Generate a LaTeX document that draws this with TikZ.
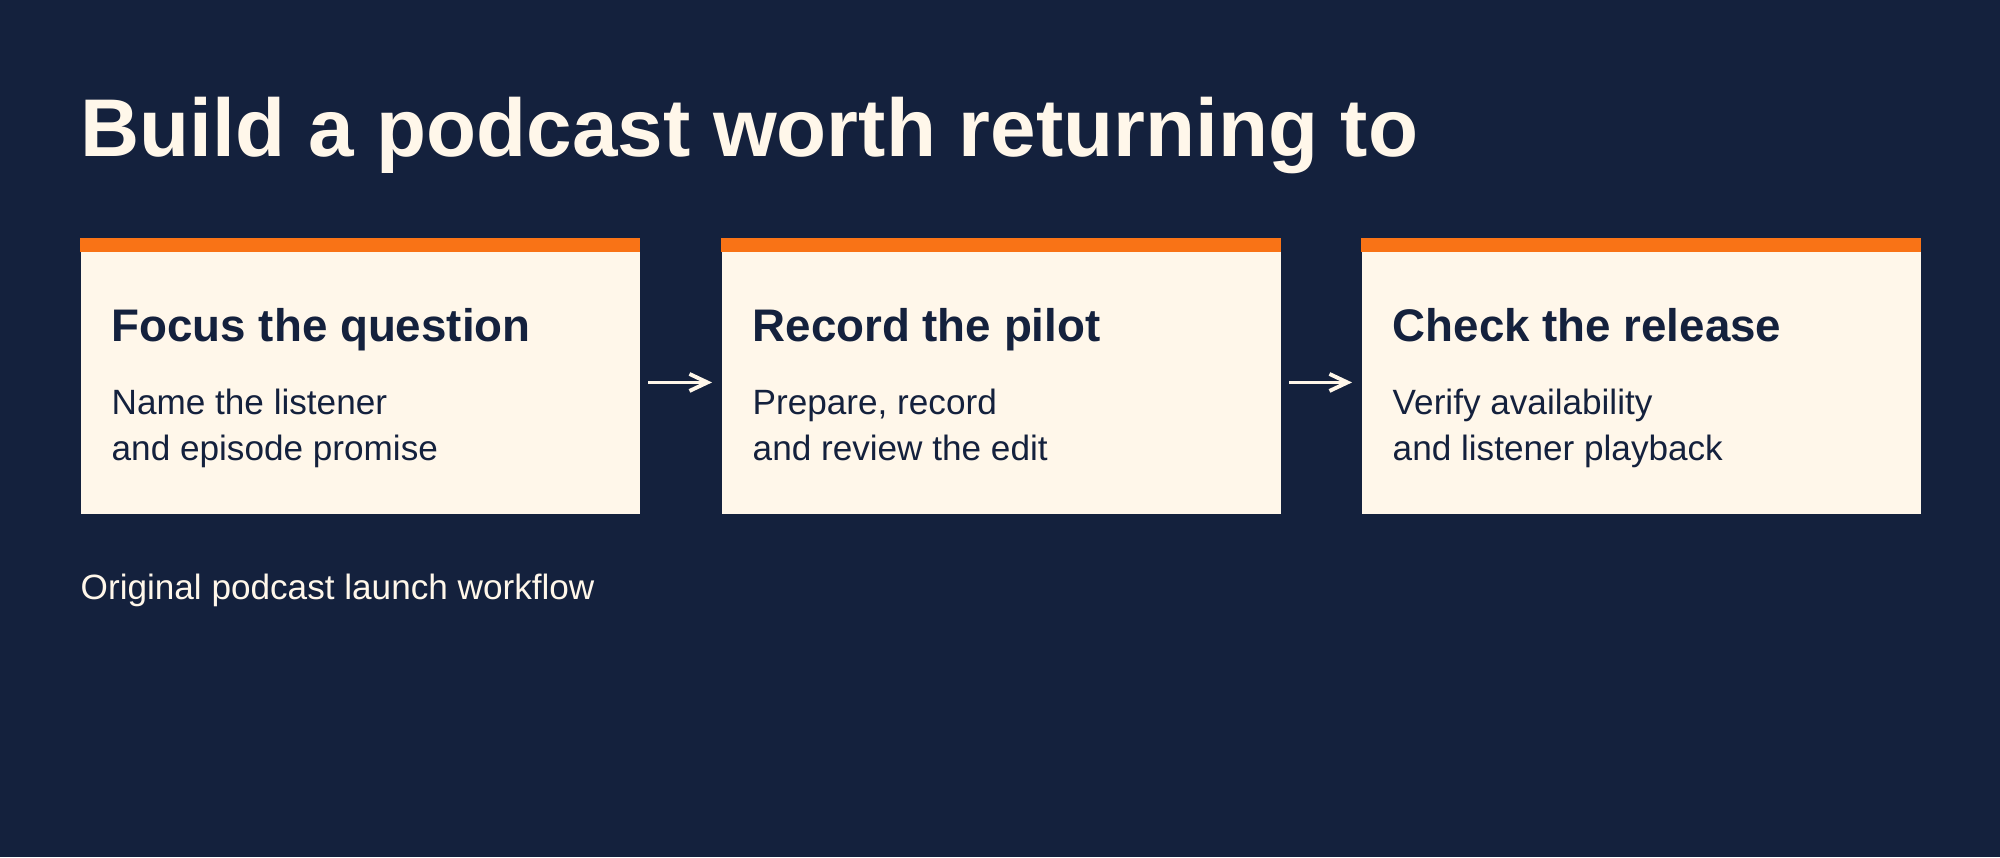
\documentclass[tikz,border=0pt]{standalone}
\usepackage{fontspec}
\setmainfont{Liberation Sans}
\usetikzlibrary{arrows.meta}
\definecolor{navy}{HTML}{14213D}
\definecolor{cream}{HTML}{FFF7EA}
\definecolor{accent}{HTML}{F97316}
\tikzstyle{headline}=[anchor=base west,inner sep=0pt,text=cream,font=\fontsize{23.3}{28}\selectfont\bfseries]
\tikzstyle{card}=[rectangle,fill=cream,anchor=north west,minimum width=5.59cm,minimum height=2.745cm,inner sep=0pt]
\tikzstyle{stage}=[anchor=base west,inner sep=0pt,text=navy,font=\fontsize{13}{16}\selectfont\bfseries]
\tikzstyle{detail}=[anchor=base west,inner sep=0pt,text=navy,align=left,font=\fontsize{10}{13.1}\selectfont]
\tikzstyle{flow}=[draw=cream,line width=1.1pt,-{Straight Barb[length=0.18cm,width=0.17cm]},shorten <=0.08cm,shorten >=0.09cm]
\tikzstyle{note}=[anchor=base west,inner sep=0pt,text=cream,font=\fontsize{10}{13}\selectfont]

\begin{document}
\begin{tikzpicture}
  \fill[navy] (0,0) rectangle (20,8.57);
  \node[headline] (head) at (0.80,7.00) {Build a podcast worth returning to};

  \node[card] (focus) at (0.80,6.185) {};
  \node[card] (record) at (7.21,6.185) {};
  \node[card] (check) at (13.61,6.185) {};
  \foreach \c in {focus,record,check}
    \fill[accent] (\c.north west) rectangle ([yshift=-0.14cm]\c.north east);

  % detail text is anchored on its last line
  \node[stage] (focust) at (1.11,5.15) {Focus the question};
  \node[detail] (focusd) at (1.11,3.965) {Name the listener\\and episode promise};
  \node[stage] (recordt) at (7.52,5.15) {Record the pilot};
  \node[detail] (recordd) at (7.52,3.965) {Prepare, record\\and review the edit};
  \node[stage] (checkt) at (13.92,5.15) {Check the release};
  \node[detail] (checkd) at (13.92,3.965) {Verify availability\\and listener playback};

  \draw[flow] ([yshift=-0.06cm]focus.east) -- ([yshift=-0.06cm]record.west);
  \draw[flow] ([yshift=-0.06cm]record.east) -- ([yshift=-0.06cm]check.west);

  \node[note] (caption) at (0.80,2.575) {Original podcast launch workflow};
\end{tikzpicture}
\end{document}
